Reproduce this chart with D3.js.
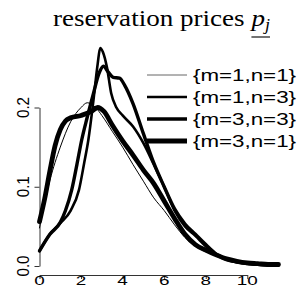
<!DOCTYPE html>
<html><head><meta charset="utf-8">
<script src="https://cdn.jsdelivr.net/npm/d3@7"></script>
<style>body{margin:0;background:#fff}svg{display:block}</style>
</head><body>
<svg id="c" width="298" height="288"></svg>
<script>
// ---- data ----
const seriesNames = ["{m=1,n=1}", "{m=1,n=3}", "{m=3,n=3}", "{m=3,n=1}"];
const seriesWidths = [1, 2.6, 3.4, 4.8];
const x_m11 = [0,0.5,1,1.5,2,2.3,2.7,3,3.5,4,4.5,5,5.5,6,6.5,7,7.5,8,8.5,9,9.5,10,10.5,11,11.5];
const y_m11 = [0.048,0.108,0.15,0.182,0.2,0.206,0.2,0.19,0.17,0.15,0.128,0.107,0.086,0.07,0.052,0.036,0.025,0.018,0.013,0.008,0.005,0.003,0.002,0.001,0.001];
const x_m13 = [0,0.5,1,1.5,1.9,2.15,2.35,2.6,2.8,2.92,3.05,3.25,3.45,3.7,4,4.5,5,5.5,6,6.5,7,7.5,8,8.5,9,9.5,10,10.5,11,11.5];
const y_m13 = [0.019,0.04,0.054,0.07,0.096,0.13,0.159,0.21,0.255,0.275,0.27,0.25,0.218,0.2,0.19,0.176,0.155,0.128,0.1,0.07,0.05,0.038,0.025,0.014,0.008,0.005,0.003,0.002,0.001,0.001];
const x_m33 = [0,0.5,1,1.25,1.55,1.8,2.03,2.3,2.6,2.85,3.08,3.3,3.55,3.85,4.1,4.5,5,5.5,6,6.5,7,7.5,8,8.5,9,9.5,10,10.5,11,11.5];
const y_m33 = [0.019,0.04,0.055,0.07,0.096,0.128,0.159,0.188,0.218,0.242,0.252,0.245,0.238,0.237,0.228,0.205,0.167,0.13,0.1,0.072,0.053,0.04,0.027,0.015,0.009,0.005,0.003,0.002,0.001,0.001];
const x_m31 = [0,0.25,0.5,0.75,1,1.25,1.5,2,2.5,2.8,3.1,3.5,4,4.5,5,5.5,6,6.5,7,7.5,8,8.5,9,9.5,10,10.5,11,11.5];
const y_m31 = [0.056,0.085,0.12,0.152,0.172,0.183,0.187,0.19,0.195,0.2,0.195,0.178,0.158,0.14,0.121,0.104,0.082,0.06,0.04,0.027,0.02,0.014,0.009,0.006,0.004,0.003,0.002,0.002];
const xTicks = [0,2,4,6,8,10];
const yTicks = [0,0.1,0.2];
const yTickLabels = ["0.0","0.1","0.2"];

const seriesX = [x_m11, x_m13, x_m33, x_m31];
const seriesY = [y_m11, y_m13, y_m33, y_m31];

// ---- scales ----
const x = d3.scaleLinear().domain([0,10]).range([39.5,247.3]);
const y = d3.scaleLinear().domain([0,0.2]).range([266,107.5]);
const svg = d3.select("#c");

// ---- axes ----
const yAx = svg.append("g").attr("transform","translate(39.5,0)")
  .call(d3.axisLeft(y).tickValues(yTicks).tickSize(5).tickSizeOuter(0).tickFormat(""));
yAx.selectAll("path,line").attr("stroke","#333").attr("stroke-width",1);
yTicks.forEach((t,i)=>{
  svg.append("text").attr("transform",`translate(29,${y(t)}) rotate(-90)`)
    .attr("text-anchor","middle").attr("font-family","Liberation Sans, Arial, sans-serif")
    .attr("font-size",17).attr("textLength",21).attr("lengthAdjust","spacingAndGlyphs")
    .text(yTickLabels[i]);
});
const xAx = svg.append("g").attr("transform","translate(0,275)")
  .call(d3.axisBottom(x).tickValues(xTicks).tickSize(4).tickSizeOuter(0).tickFormat(""));
xAx.selectAll("path,line").attr("stroke","#333").attr("stroke-width",1);
xTicks.forEach(t=>{
  svg.append("text").attr("transform",`translate(${x(t)},284.5) scale(1.4,1)`)
    .attr("text-anchor","middle").attr("font-family","Liberation Sans, Arial, sans-serif")
    .attr("font-size",13.5).text(String(t));
});

// ---- curves ----
const line = d3.line().x(d=>x(d[0])).y(d=>y(d[1])).curve(d3.curveMonotoneX);
seriesX.forEach((xs,i)=>{
  const pts = xs.map((v,j)=>[v, seriesY[i][j]]);
  svg.append("path").attr("d", line(pts)).attr("fill","none").attr("stroke","#000")
    .attr("stroke-width", seriesWidths[i]).attr("stroke-linecap","round").attr("stroke-linejoin","round");
});

// ---- legend ----
seriesNames.forEach((n,i)=>{
  const ly = 75 + i*22;
  svg.append("line").attr("x1",147).attr("x2",187).attr("y1",ly).attr("y2",ly)
    .attr("stroke", i===0 ? "#666" : "#000").attr("stroke-width", seriesWidths[i]);
  svg.append("text").attr("x",193).attr("y",ly).attr("dy","0.36em")
    .attr("font-family","Liberation Sans, Arial, sans-serif").attr("font-size",16.5)
    .attr("textLength",103).attr("lengthAdjust","spacingAndGlyphs").text(n);
});

// ---- title ----
const tg = svg.append("g");
const tt = tg.append("text").attr("x",0).attr("y",0)
  .attr("font-family","Liberation Serif, Times New Roman, serif").attr("font-size",24);
tt.append("tspan").text("reservation prices ");
tt.append("tspan").attr("font-style","italic").text("p");
tt.append("tspan").attr("font-style","italic").attr("font-size",16).attr("dy",4).text("j");
const w = tt.node().getComputedTextLength();
const sx = 217 / w;
tg.attr("transform",`translate(53,26) scale(${sx},1)`);
const n0 = "reservation prices ".length;
const p0 = tt.node().getStartPositionOfChar(n0).x;
const p1 = tt.node().getEndPositionOfChar(n0+1).x;
tg.append("line").attr("x1",p0).attr("x2",p1).attr("y1",11).attr("y2",11)
  .attr("stroke","#000").attr("stroke-width",1.1);
</script>
</body></html>
